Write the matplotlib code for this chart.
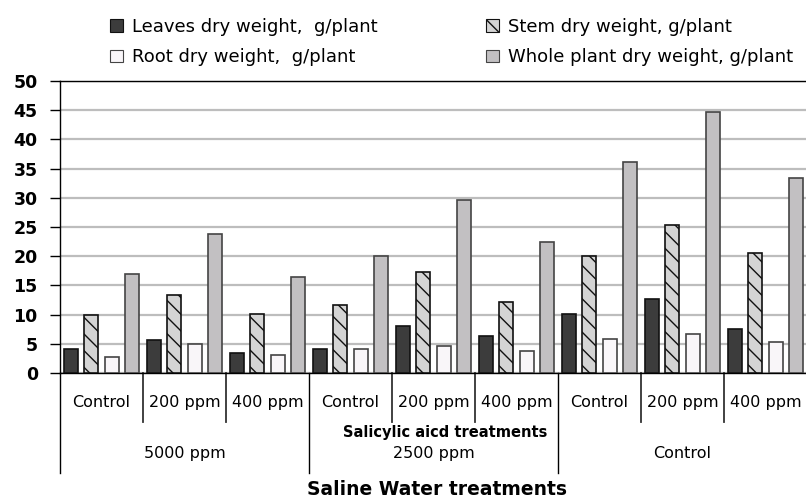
import numpy as np
import matplotlib
matplotlib.use('Agg')
import matplotlib.pyplot as plt
from matplotlib.patches import Patch

# data
salicylic = ['Control', '200 ppm', '400 ppm'] * 3
saline = ['5000 ppm', '2500 ppm', 'Control']
leaves = [4.1, 5.6, 3.4, 4.1, 8.1, 6.3, 10.1, 12.7, 7.6]
stem = [9.9, 13.4, 10.1, 11.7, 17.3, 12.2, 20.0, 25.3, 20.6]
root = [2.8, 4.9, 3.1, 4.1, 4.7, 3.8, 5.8, 6.6, 5.3]
whole = [17.0, 23.8, 16.5, 20.0, 29.6, 22.5, 36.1, 44.7, 33.4]

series = [
    ('Leaves dry weight,  g/plant', leaves, dict(facecolor='#3c3c3c', edgecolor='#111111')),
    ('Stem dry weight, g/plant', stem, dict(facecolor='#d4d4d4', edgecolor='#111111', hatch='\\\\')),
    ('Root dry weight,  g/plant', root, dict(facecolor='#f9f6f9', edgecolor='#444444')),
    ('Whole plant dry weight, g/plant', whole, dict(facecolor='#c2c0c2', edgecolor='#444444')),
]

plt.rcParams['font.family'] = 'DejaVu Sans'
plt.rcParams['hatch.linewidth'] = 1.0

fig = plt.figure(figsize=(8.06, 4.98), dpi=100)
ax = fig.add_axes([60 / 806, 125 / 498, 747 / 806, 292 / 498])

x = np.arange(len(leaves)) + 0.5
width = 0.17
step = 0.247
handles = []
for i, (name, vals, style) in enumerate(series):
    ax.bar(x + (i - 1.5) * step, vals, width, linewidth=1.2, zorder=3, **style)
    handles.append(Patch(label=name, linewidth=0.8, **style))

ax.set_xlim(0, 9)
ax.set_ylim(0, 50)
ax.set_yticks(np.arange(0, 51, 5))
ax.yaxis.grid(True, color='#bdbdbd', linewidth=1.6, zorder=0)
ax.set_axisbelow(True)
ax.tick_params(axis='y', direction='out', length=7, width=1, pad=9, labelsize=12.5)
for lab in ax.get_yticklabels():
    lab.set_fontweight('bold')
ax.set_xticks([])
for side in ['left', 'top', 'bottom']:
    ax.spines[side].set_color('black')
    ax.spines[side].set_linewidth(1)
ax.spines['right'].set_visible(False)

# two-level category axis
tr = ax.get_xaxis_transform()
for k in range(1, 9):
    if k % 3 == 0:
        continue
    ax.plot([k, k], [0, -0.168], color='#333333', lw=1.3, transform=tr, clip_on=False)
for k in [0, 3, 6]:
    ax.plot([k, k], [0, -0.342], color='black', lw=1, transform=tr, clip_on=False)
for k, lab in enumerate(salicylic):
    ax.text(k + 0.5, -0.100, lab, transform=tr, ha='center', va='center', fontsize=11.5)
for k, lab in enumerate(saline):
    ax.text(3 * k + 1.5, -0.274, lab, transform=tr, ha='center', va='center', fontsize=11.5)
ax.text(4.64, -0.205, 'Salicylic aicd treatments', transform=tr, ha='center', va='center',
        fontsize=10.5, fontweight='bold')
ax.text(4.54, -0.400, 'Saline Water treatments', transform=tr, ha='center', va='center',
        fontsize=13.5, fontweight='bold')

order = [handles[0], handles[2], handles[1], handles[3]]
fig.legend(handles=order, ncol=2, loc='upper left', bbox_to_anchor=(94 / 806, 0.997),
           frameon=False, fontsize=13, handlelength=0.7, handleheight=0.7,
           handletextpad=0.5, columnspacing=6.0, labelspacing=0.7)

fig.savefig('out.png', dpi=100)
